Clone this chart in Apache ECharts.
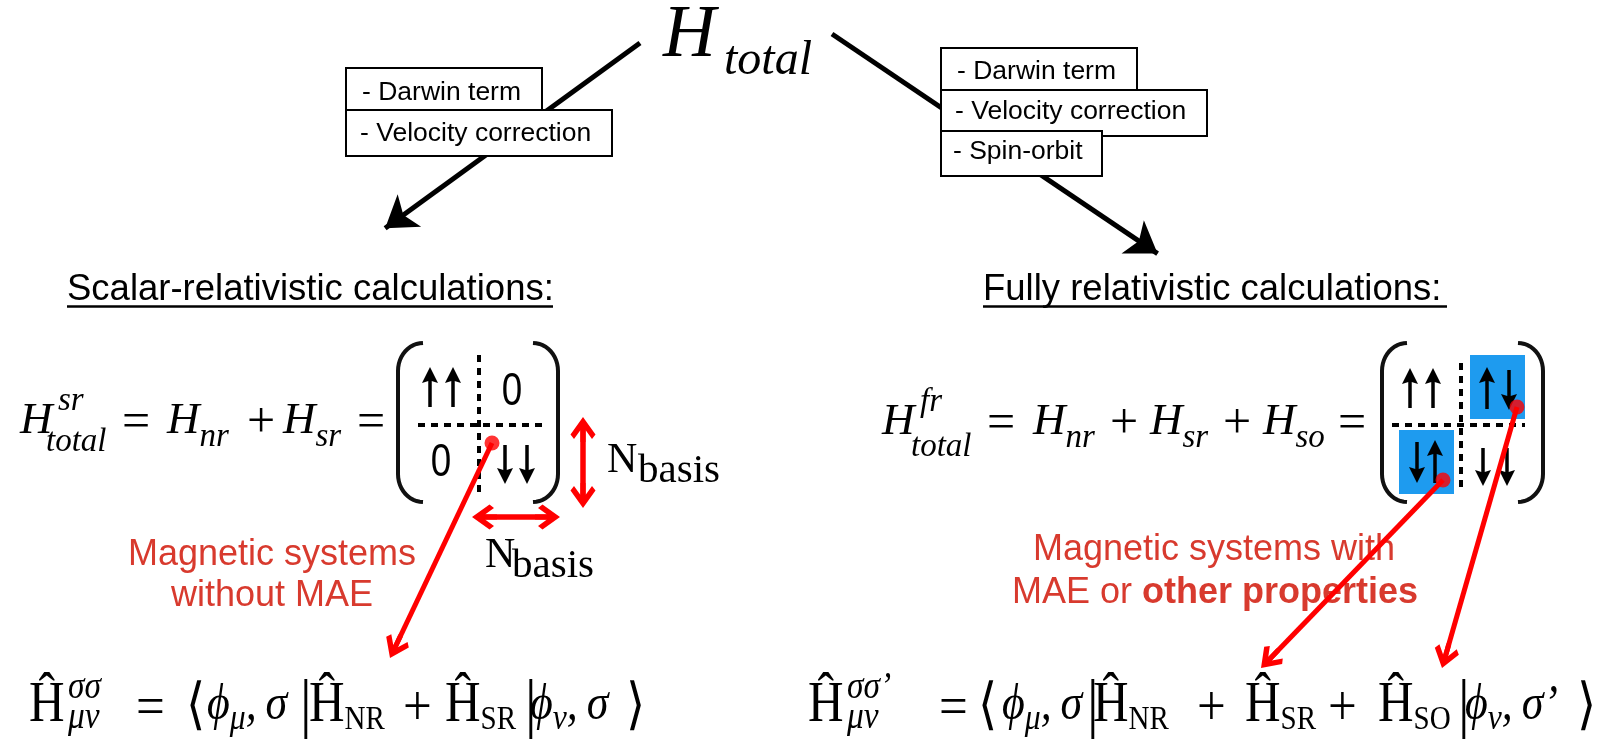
<!DOCTYPE html>
<html>
<head>
<meta charset="utf-8">
<title>H total</title>
<script src="https://cdn.jsdelivr.net/npm/echarts@6/dist/echarts.min.js"></script>
<style>
  html, body { margin: 0; padding: 0; background: #fff; }
  #main { width: 1614px; height: 740px; }
</style>
</head>
<body>
<div id="main"></div>
<script>
// layout space is the picture itself: x 0..1614 to the right, y 0..740 downwards
var blackArrows = [[[640, 43], [373, 237]], [[832, 34], [1170, 262]]];
var redArrows = [[[492, 443], [390, 658]], [[1443, 480], [1261, 668]], [[1517, 407], [1442, 668]]];
var sizeArrows = [[[583, 417], [583, 508]], [[472, 517], [560, 517]]];
var redDots = [[492, 443], [1443, 480], [1517, 407]];
var dashLines = [[[479, 355], [479, 493]], [[418, 425], [542, 425]], [[1461, 363], [1461, 487]], [[1392, 425], [1525, 425]]];
var underlines = [[[67, 306], [553, 306]], [[983, 306], [1447, 306]]];
var matrices = [[398, 343, 558, 502], [1382, 343, 1543, 502]];
var blueCells = [[1470, 355, 1525, 419], [1399, 430, 1454, 494]];
// spin arrows in the matrix cells: [x, tail y, tip y]
var spinArrows = [
  [430, 407, 367], [453, 407, 367], [505, 445, 484], [527, 445, 484],
  [1410, 408, 368], [1433, 408, 368], [1487, 409, 367], [1509, 370, 410],
  [1417, 442, 483], [1435, 483, 440], [1483, 448, 486], [1507, 448, 486]
];

// term boxes: corners, then where the label starts
var termBoxes = [
  [346, 68, 542, 110, 362, 93, '- Darwin term'],
  [346, 110, 612, 156, 360, 134, '- Velocity correction'],
  [941, 48, 1137, 90, 957, 72, '- Darwin term'],
  [941, 90, 1207, 136, 955, 112, '- Velocity correction'],
  [941, 131, 1102, 176, 953, 152, '- Spin-orbit']
];

// text pieces: [x, y, text], x = left edge, y = middle of the line
var titleParts = [[663, 37, '{title|H}'], [724, 61, '{titleSub|total}']];
var headers = [[67, 290, '{head|Scalar-relativistic calculations:}'], [983, 290, '{head|Fully relativistic calculations:}']];
var leftEq = [
  [20, 421, '{mi|H}'], [58, 401, '{miS|sr}'], [46, 442, '{miS|total}'],
  [122, 424, '{op|=}'], [167, 421, '{mi|H}{sub|nr}'], [247, 424, '{op|+}'],
  [283, 421, '{mi|H}{sub|sr}'], [357, 424, '{op|=}']
];
var rightEq = [
  [882, 422, '{mi|H}'], [920, 402, '{miS|fr}'], [911, 447, '{miS|total}'],
  [987, 425, '{op|=}'], [1033, 422, '{mi|H}{sub|nr}'], [1110, 425, '{op|+}'],
  [1150, 422, '{mi|H}{sub|sr}'], [1223, 425, '{op|+}'], [1263, 422, '{mi|H}{sub|so}'],
  [1338, 425, '{op|=}']
];
var basisLabels = [[607, 461, '{nb|N}'], [638, 471, '{nbS|basis}'], [485, 556, '{nb|N}'], [512, 566, '{nbS|basis}']];
var bottomLeftEq = [
  [29, 706, '{rm|Ĥ}'], [68, 688, '{gS|σσ}'], [68, 718, '{gS|μν}'], [136, 710, '{op2|=}'],
  [186, 708, '{br|⟨}'], [207, 706, '{gi|ϕ}{gsub|μ}{gi|,\u2009σ}'], [300, 708, '{bar||}'],
  [309, 706, '{rm|Ĥ}{rsub|NR}'], [403, 710, '{op2|+}'], [445, 706, '{rm|Ĥ}{rsub|SR}'],
  [525, 708, '{bar||}'], [530, 706, '{gi|ϕ}{gsub|ν}{gi|,\u2009σ}'], [626, 708, '{br|⟩}']
];
var bottomRightEq = [
  [808, 706, '{rm|Ĥ}'], [847, 688, '{gS|σσ’}'], [847, 718, '{gS|μν}'], [939, 710, '{op2|=}'],
  [978, 708, '{br|⟨}'], [1002, 706, '{gi|ϕ}{gsub|μ}{gi|,\u2009σ}'], [1087, 708, '{bar||}'],
  [1093, 706, '{rm|Ĥ}{rsub|NR}'], [1197, 710, '{op2|+}'], [1245, 706, '{rm|Ĥ}{rsub|SR}'],
  [1328, 710, '{op2|+}'], [1378, 706, '{rm|Ĥ}{rsub|SO}'], [1458, 708, '{bar||}'],
  [1465, 706, '{gi|ϕ}{gsub|ν}{gi|,\u2009σ’}'], [1577, 708, '{br|⟩}']
];
// centred pieces: [x, y, text], x = centre
var zeros = [[512, 392, '{zero|0}'], [441, 463, '{zero|0}']];
var redNotes = [
  [272, 555, '{red|Magnetic systems}'], [272, 596, '{red|without MAE}'],
  [1214, 550, '{red|Magnetic systems with}'], [1215, 593, '{red|MAE or }{redB|other properties}']
];

var SERIF = '"Liberation Serif", "DejaVu Serif", serif';
var SANS = '"Liberation Sans", Arial, sans-serif';
var RED = '#ff0000';
var NOTE_RED = '#d83a2e';

function tok(size, family, italic, bold, color, shift) {
  var s = {
    fontSize: size, fontFamily: family,
    fontStyle: italic ? 'italic' : 'normal', fontWeight: bold ? 'bold' : 'normal',
    fill: color || '#000'
  };
  if (shift > 0) s.padding = [2 * shift, 0, 0, 0];
  if (shift < 0) s.padding = [0, 0, -2 * shift, 0];
  return s;
}
var rich = {
  title: tok(73, SERIF, 1), titleSub: tok(48, SERIF, 1),
  head: tok(36.5, SANS), term: tok(26.5, SANS),
  mi: tok(45, SERIF, 1), miS: tok(33, SERIF, 1), sub: tok(33, SERIF, 1, 0, '#000', 16), op: tok(50, SERIF),
  nb: tok(42, SERIF), nbS: tok(41, SERIF),
  rm: tok(56, SERIF), rsub: tok(33, SERIF, 0, 0, '#000', 14), gi: tok(50, SERIF, 1), gS: tok(38, SERIF, 1),
  gsub: tok(36, SERIF, 1, 0, '#000', 14), op2: tok(58, SERIF),
  br: tok(56, '"DejaVu Serif", serif'), bar: tok(66, SERIF),
  zero: tok(46, SANS),
  red: tok(36, SANS, 0, 0, NOTE_RED), redB: tok(36, SANS, 0, 1, NOTE_RED)
};

// move the line end back so the head's tip lands on the given point
function pull(from, to, d) {
  var dx = to[0] - from[0], dy = to[1] - from[1];
  var len = Math.sqrt(dx * dx + dy * dy);
  return [to[0] - dx / len * d, to[1] - dy / len * d];
}
var CHEVRON = 'path://M50,0 L100,70 L86,88 L60,52 L60,100 L40,100 L40,52 L14,88 L0,70 Z';
var SPIN_HEAD = 'path://M50,0 L100,100 L50,84 L0,100 Z';

function textSeries(list, align, z, sx) {
  return {
    type: 'custom', z: z, silent: true,
    data: list.map(function (t) { return [t[0], t[1]]; }),
    renderItem: function (params, api) {
      var t = list[params.dataIndex];
      var p = api.coord([t[0], t[1]]);
      return {
        type: 'text', x: p[0], y: p[1], scaleX: sx || 1,
        style: { text: t[2], rich: rich, align: align, verticalAlign: 'middle', fill: '#000' }
      };
    }
  };
}

function rectSeries(list, style, z, withLabel) {
  return {
    type: 'custom', z: z, silent: true,
    data: list.map(function (b) { return [b[0], b[1], b[2], b[3]]; }),
    renderItem: function (params, api) {
      var b = list[params.dataIndex];
      var p0 = api.coord([b[0], b[1]]), p1 = api.coord([b[2], b[3]]);
      var kids = [{
        type: 'rect',
        shape: { x: p0[0], y: p0[1], width: p1[0] - p0[0], height: p1[1] - p0[1] },
        style: style
      }];
      if (withLabel) {
        var q = api.coord([b[4], b[5]]);
        kids.push({
          type: 'text', x: q[0], y: q[1],
          style: { text: '{term|' + b[6] + '}', rich: rich, align: 'left', verticalAlign: 'middle' }
        });
      }
      return { type: 'group', children: kids };
    }
  };
}

var chart = echarts.init(document.getElementById('main'));
chart.setOption({
  animation: false,
  backgroundColor: '#fff',
  grid: { left: 0, right: 0, top: 0, bottom: 0 },
  xAxis: { type: 'value', min: 0, max: 1614, show: false },
  yAxis: { type: 'value', min: 0, max: 740, inverse: true, show: false },
  series: [
    {
      type: 'lines', coordinateSystem: 'cartesian2d', z: 1, silent: true,
      symbol: ['none', 'arrow'], symbolSize: 30,
      lineStyle: { color: '#000', width: 5, opacity: 1 },
      data: blackArrows.map(function (a) { return { coords: [a[0], pull(a[0], a[1], 15)] }; })
    },
    rectSeries(termBoxes, { fill: '#fff', stroke: '#000', lineWidth: 2 }, 2, true),
    {
      type: 'lines', coordinateSystem: 'cartesian2d', z: 3, silent: true,
      lineStyle: { color: '#000', width: 2.5, opacity: 1 },
      data: underlines.map(function (a) { return { coords: a }; })
    },
    rectSeries(blueCells, { fill: '#1e9bef' }, 3, false),
    {
      type: 'lines', coordinateSystem: 'cartesian2d', z: 4, silent: true,
      lineStyle: { color: '#000', width: 4, opacity: 1, type: [7, 6] },
      data: dashLines.map(function (a) { return { coords: a }; })
    },
    {
      type: 'lines', coordinateSystem: 'cartesian2d', z: 4, silent: true,
      symbol: ['none', SPIN_HEAD], symbolSize: 16,
      lineStyle: { color: '#000', width: 3.5, opacity: 1 },
      data: spinArrows.map(function (s) {
        return { coords: [[s[0], s[1]], pull([s[0], s[1]], [s[0], s[2]], 8)] };
      })
    },
    {
      type: 'custom', z: 4, silent: true,
      data: matrices.map(function (m) { return m.slice(); }),
      renderItem: function (params, api) {
        var m = matrices[params.dataIndex];
        var a = api.coord([m[0], m[1]]), b = api.coord([m[2], m[3]]);
        var rx = 25, ry = 28, n = 12;
        function bracket(xEdge, xEnd) {
          var pts = [], i, t;
          for (i = 0; i <= n; i++) {
            t = i / n * Math.PI / 2;
            pts.push([xEnd + (xEdge - xEnd) * Math.sin(t), a[1] + ry - ry * Math.cos(t)]);
          }
          for (i = 0; i <= n; i++) {
            t = i / n * Math.PI / 2;
            pts.push([xEdge + (xEnd - xEdge) * (1 - Math.cos(t)), b[1] - ry + ry * Math.sin(t)]);
          }
          return { type: 'polyline', shape: { points: pts }, style: { stroke: '#111', lineWidth: 4, fill: 'none' } };
        }
        return { type: 'group', children: [bracket(a[0], a[0] + rx), bracket(b[0], b[0] - rx)] };
      }
    },
    textSeries([].concat(titleParts, headers, leftEq, rightEq, basisLabels), 'left', 5),
    textSeries([].concat(bottomLeftEq, bottomRightEq), 'left', 5, 0.88),
    textSeries(zeros, 'center', 5, 0.8),
    textSeries(redNotes, 'center', 5),
    {
      type: 'lines', coordinateSystem: 'cartesian2d', z: 6, silent: true,
      symbol: [CHEVRON, CHEVRON], symbolSize: 25,
      lineStyle: { color: RED, width: 5.5, opacity: 1 },
      data: sizeArrows.map(function (a) { return { coords: [pull(a[1], a[0], 12.5), pull(a[0], a[1], 12.5)] }; })
    },
    {
      type: 'lines', coordinateSystem: 'cartesian2d', z: 6, silent: true,
      symbol: ['none', CHEVRON], symbolSize: 25,
      lineStyle: { color: RED, width: 5, opacity: 1 },
      data: redArrows.map(function (a) { return { coords: [a[0], pull(a[0], a[1], 12.5)] }; })
    },
    {
      type: 'scatter', z: 7, silent: true, symbol: 'circle', symbolSize: 15,
      itemStyle: { color: RED },
      data: redDots
    }
  ]
});
</script>
</body>
</html>
